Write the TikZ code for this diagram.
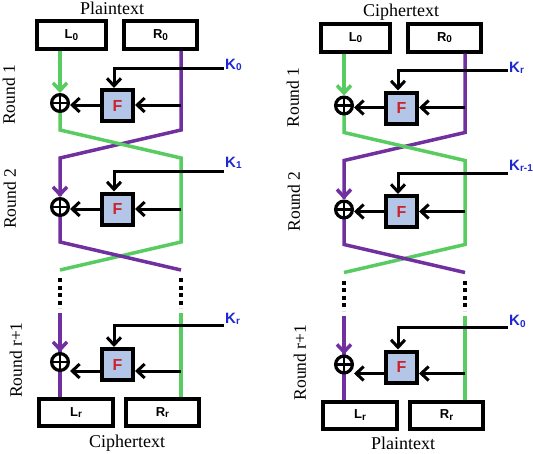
\documentclass[tikz,border=0pt]{standalone}
\usepackage{fontspec}
\setmainfont{Liberation Serif}
\setsansfont{Liberation Sans}
\usetikzlibrary{arrows.meta}
\definecolor{fgreen}{RGB}{88,204,96}
\definecolor{fpurple}{RGB}{112,48,160}
\definecolor{fblue}{RGB}{180,198,231}
\definecolor{fred}{RGB}{200,36,44}
\definecolor{kblue}{RGB}{30,40,210}
\newcommand\lowsub[1]{\raisebox{-1.3pt}{\fontsize{10}{10}\selectfont #1}}
\tikzset{
  ftip/.tip={Straight Barb[length=7.5pt,width=14pt]},
  half/.style={draw=black, line width=4pt, minimum width=69.5pt, minimum height=28pt, inner sep=0pt,
    font=\sffamily\bfseries\fontsize{13}{13}\selectfont},
  fbox/.style={draw=black, line width=4pt, fill=fblue, minimum size=31pt, inner sep=0pt,
    text=fred, font=\sffamily\bfseries\fontsize{16}{16}\selectfont},
  xor/.style={circle, draw=black, fill=white, line width=3.2pt, minimum size=16.8pt, inner sep=0pt,
    path picture={\draw[line width=2.8pt]
      (path picture bounding box.north) -- (path picture bounding box.south)
      (path picture bounding box.west) -- (path picture bounding box.east);}},
  gwire/.style={draw=fgreen, line width=3.5pt},
  pwire/.style={draw=fpurple, line width=3.5pt},
  karrow/.style={draw=black, line width=3pt, -ftip},
  dotline/.style={draw=black, line width=4.5pt, dash pattern=on 4pt off 3.5pt},
  keytext/.style={anchor=west, inner sep=1pt, text=kblue, font=\sffamily\bfseries\fontsize{15}{15}\selectfont},
  captext/.style={inner sep=0pt, font=\fontsize{18}{18}\selectfont},
  rnd/.style={inner sep=0pt, rotate=90, font=\fontsize{17.5}{17.5}\selectfont}
}
\newcommand\feistelnet[3]{%
  \node[half] (L0) at (71.5,35) {L\lowsub{0}};
  \node[half, minimum width=73pt] (R0) at (160.5,35) {R\lowsub{0}};
  \node[half, minimum width=74pt, minimum height=27pt] (Lr) at (76,412.5) {L\lowsub{r}};
  \node[half, minimum width=73pt, minimum height=27pt] (Rr) at (162.5,412.5) {R\lowsub{r}};
  \node[rnd] (rd1) at (9,95) {Round 1};
  \node[rnd] (rd2) at (10,199) {Round 2};
  \node[rnd] (rd3) at (16,360) {Round r+1};
  \coordinate (a1) at (181,105);
  \coordinate (a2) at (181,209);
  \coordinate (a3) at (181,371);
  \coordinate (c1) at (114,68);
  \coordinate (c2) at (114,171);
  \coordinate (c3) at (114,325);
  \coordinate (dl1) at (60,278);
  \coordinate (dl2) at (60,308);
  \coordinate (dr1) at (181,278);
  \coordinate (dr2) at (181,308);
  \coordinate (sl) at (60,313);
  \coordinate (sr) at (181,313);
  % purple and green wires
  \draw[pwire] (R0.south -| a1) -- (181,130) -- (60,158) -- (60,196) ;
  \draw[gwire] (60,112) -- (60,130) -- (181,158) -- (181,242) -- (60,270);
  \draw[pwire] (60,216) -- (60,242) -- (181,270);
  \draw[gwire] (sr) -- (Rr.north -| sr);
  \draw[pwire] (sl) -- (Lr.north -| sl);
  \draw[dotline] (dl1) -- (dl2);
  \draw[dotline] (dr1) -- (dr2);
  % xor and F
  \node[xor] (x1) at (60,103) {};
  \node[fbox] (F1) at (117.5,105.5) {F};
  \node[xor] (x2) at (60,207) {};
  \node[fbox] (F2) at (117.5,209) {F};
  \node[xor] (x3) at (60,362) {};
  \node[fbox] (F3) at (117.5,364.5) {F};
  % arrows into the xor
  \draw[gwire, -ftip] (L0.south -| x1) -- (x1.north);
  \draw[pwire, -ftip] (60,190) -- (x2.north);
  \draw[pwire, -ftip] (sl) -- (x3.north);
  % black arrows
  \draw[karrow] (a1) -- (a1 -| F1.east);
  \draw[karrow] (a1 -| F1.west) -- (a1 -| x1.east);
  \draw[karrow] (a2) -- (a2 -| F2.east);
  \draw[karrow] (a2 -| F2.west) -- (a2 -| x2.east);
  \draw[karrow] (a3) -- (a3 -| F3.east);
  \draw[karrow] (a3 -| F3.west) -- (a3 -| x3.east);
  % keys
  \node[keytext] (k1) at (224,65) {#1};
  \node[keytext] (k2) at (224,163) {#2};
  \node[keytext] (k3) at (224,319) {#3};
  \draw[karrow] (k1.west |- c1) -- (c1) -- (c1 |- F1.north);
  \draw[karrow] (k2.west |- c2) -- (c2) -- (c2 |- F2.north);
  \draw[karrow] (k3.west |- c3) -- (c3) -- (c3 |- F3.north);
}
\begin{document}
\begin{tikzpicture}[x=1pt, y=-1pt]
  \useasboundingbox (0,0) rectangle (533,453);
  \begin{scope}[name prefix=A-]
    \feistelnet{K\lowsub{0}}{K\lowsub{1}}{K\lowsub{r}}
  \end{scope}
  \begin{scope}[shift={(284,2.5)}, name prefix=B-]
    \feistelnet{K\lowsub{r}}{K\lowsub{r-1}}{K\lowsub{0}}
  \end{scope}
  \node[captext] (ptop) at (112,8) {Plaintext};
  \node[captext] (cbot) at (127,443) {Ciphertext};
  \node[captext] (ctop) at (401,12) {Ciphertext};
  \node[captext] (pbot) at (403,443) {Plaintext};
\end{tikzpicture}
\end{document}
